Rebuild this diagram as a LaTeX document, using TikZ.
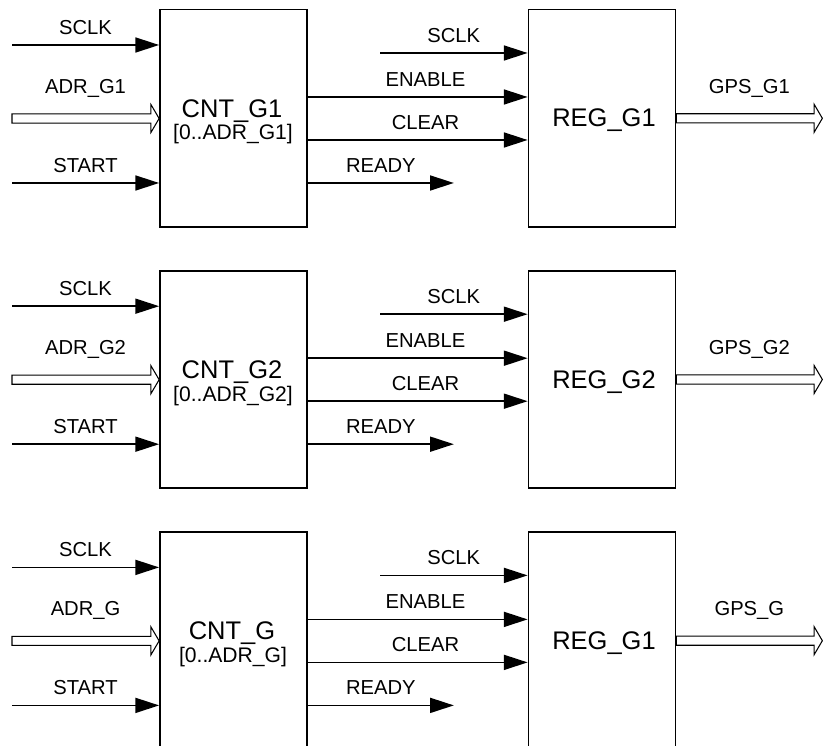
\documentclass[tikz,border=0pt]{standalone}
\usepackage{fontspec}
\setmainfont{Liberation Sans}
\usetikzlibrary{arrows.meta,calc}

\tikzset{
  blocco/.style={draw, line width=1pt, minimum width=2.94cm, minimum height=4.35cm, inner sep=0pt},
  segnale/.style={line width=1pt, -{Triangle[length=13.5pt,width=8.5pt]}},
  busl/.style={line width=0.6pt, fill=white},
  etich/.style={font=\fontsize{11.5}{13}\selectfont, inner sep=0pt, text depth=0pt, above=5.5pt},
  titolo/.style={font=\fontsize{14.5}{16}\selectfont, inner sep=0pt, anchor=base},
  intervallo/.style={font=\fontsize{12}{14}\selectfont, inner sep=0pt, anchor=base}
}

% bus: da #1 a #2 (punta), etichetta #3
\newcommand{\bussegnale}[3]{%
  \draw[busl] let \p1=(#1), \p2=(#2) in
    (\x1,\y1+2.6pt) -- (\x2-4.7pt,\y1+2.6pt) -- (\x2-4.7pt,\y1+8pt) -- (\x2,\y1)
    -- (\x2-4.7pt,\y1-8pt) -- (\x2-4.7pt,\y1-2.6pt) -- (\x1,\y1-2.6pt) -- cycle;
  \path (#1) -- node[etich, above=8.5pt] {#3} (#2);}

\begin{document}
\begin{tikzpicture}[x=0.02cm, y=-0.02cm]
  \useasboundingbox (0,0) rectangle (823,746);
  \clip (0,0) rectangle (823,746);
  \foreach \i/\n/\r in {0/G1/G1, 1/G2/G2, 2/G/G1}{
    \pgfmathsetmacro{\dy}{261.2*\i}
    % blocchi
    \node[blocco] (cnt\i) at (233.5,118.3+\dy) {};
    \node[blocco] (reg\i) at (602,118.3+\dy) {};
    \node[titolo] (cntt\i) at (232,117.5+\dy) {CNT\_\n};
    \node[intervallo] (cnti\i) at (233,140+\dy) {[0..ADR\_\n]};
    \node[titolo] (regt\i) at (604,127+\dy) {REG\_\r};
    % ingressi
    \coordinate (sclka\i) at (12,45+\dy);
    \coordinate (adr\i) at (12,118.5+\dy);
    \coordinate (start\i) at (12,183+\dy);
    \draw[segnale] (sclka\i) -- node[etich] {SCLK} (sclka\i -| cnt\i.west);
    \bussegnale{adr\i}{adr\i -| cnt\i.west}{ADR\_\n}
    \draw[segnale] (start\i) -- node[etich] {START} (start\i -| cnt\i.west);
    % collegamenti e uscite
    \coordinate (sclkb\i) at (380,53+\dy);
    \draw[segnale] (sclkb\i) -- node[etich] {SCLK} (sclkb\i -| reg\i.west);
    \draw[segnale] ($(cnt\i.east)+(0,-21.3)$) -- node[etich, pos=0.535] {ENABLE} ($(reg\i.west)+(0,-21.3)$);
    \draw[segnale] ($(cnt\i.east)+(0,21.7)$) -- node[etich, pos=0.535] {CLEAR} ($(reg\i.west)+(0,21.7)$);
    \coordinate (rdy\i) at ($(cnt\i.east)+(146,64.7)$);
    \draw[segnale] ($(cnt\i.east)+(0,64.7)$) -- node[etich] {READY} (rdy\i);
    \coordinate (gps\i) at ($(reg\i.east)+(146,0)$);
    \bussegnale{reg\i.east}{gps\i}{GPS\_\n}
  }
\end{tikzpicture}
\end{document}
